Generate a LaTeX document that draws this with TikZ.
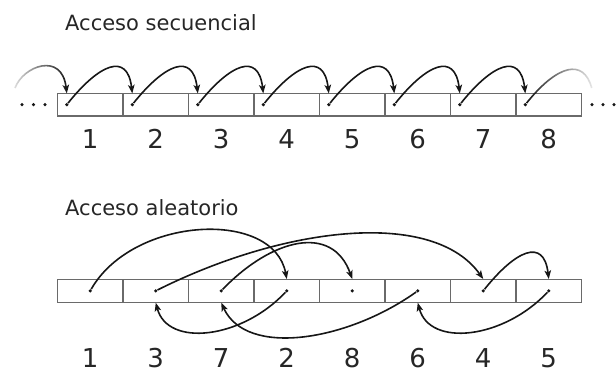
\documentclass[tikz,border=0pt]{standalone}
\usepackage{fontspec}
\setmainfont{DejaVu Sans}
\usetikzlibrary{arrows.meta,fadings}
\tikzfading[name=fadeinleft, left color=transparent!85, middle color=transparent!15, right color=transparent!0]
\tikzfading[name=fadeoutright, left color=transparent!0, middle color=transparent!10, right color=transparent!90]
\definecolor{boxline}{HTML}{6A6A6A}
\definecolor{inkc}{HTML}{161616}
\definecolor{textc}{HTML}{262626}
\begin{document}
\begin{tikzpicture}[x=1pt,y=-1pt,
  cellbox/.style={draw=boxline, line width=1.2pt, rectangle, minimum width=65.5pt, minimum height=22.5pt, inner sep=0pt},
  dotmark/.style={circle, fill=inkc, inner sep=0pt, minimum size=3.6pt},
  arr/.style={draw=inkc, line width=1.6pt, -{Stealth[length=8.5pt,width=6.5pt,inset=2pt]}},
  numlabel/.style={font=\fontsize{26}{30}\selectfont, text=textc, inner sep=0pt, anchor=base},
  titlelabel/.style={font=\fontsize{21}{25}\selectfont, text=textc, inner sep=0pt, anchor=base west},
  ell/.style={circle, fill=inkc, inner sep=0pt, minimum size=3.4pt}]
\useasboundingbox (0,0) rectangle (616,372);

% ---------- Acceso secuencial ----------
\node[titlelabel] (t1) at (65,30.7) {Acceso secuencial};
\foreach \i in {1,...,8} {
  \node[cellbox] (s\i) at ({57.5+(\i-0.5)*65.5},104.65) {};
  \node[dotmark] (sd\i) at ({57.5+(\i-1)*65.5+9.3},104.65) {};
  \coordinate (st\i) at ({57.5+(\i-1)*65.5+9.3},93.4);
  \node[numlabel] (sn\i) at ({57.5+(\i-0.5)*65.5},148) {\i};
}
\foreach \i [evaluate=\i as \j using int(\i+1)] in {1,...,7}
  \draw[arr] (sd\i) .. controls +(32,-40) and +(-5,-42) .. (st\j);
\coordinate (lin) at (15,88);
\coordinate (rout) at (591.7,88);
\draw[arr, path fading=fadeinleft] (lin) .. controls +(8,-22) and +(-5,-42) .. (st1);
\draw[draw=inkc, line width=1.6pt, path fading=fadeoutright] (sd8) .. controls +(32,-40) and +(-8,-30) .. (rout);
\node[ell] (le1) at (22,104.65) {};
\node[ell] (le2) at (33.5,104.65) {};
\node[ell] (le3) at (45,104.65) {};
\node[ell] (re1) at (592,104.65) {};
\node[ell] (re2) at (603,104.65) {};
\node[ell] (re3) at (614,104.65) {};

% ---------- Acceso aleatorio ----------
\node[titlelabel] (t2) at (65,215) {Acceso aleatorio};
\foreach \i/\lab in {1/1,2/3,3/7,4/2,5/8,6/6,7/4,8/5} {
  \node[cellbox] (r\i) at ({57.5+(\i-0.5)*65.5},290.85) {};
  \node[dotmark] (rd\i) at (r\i.center) {};
  \node[numlabel] (rn\i) at ({57.5+(\i-0.5)*65.5},367) {\lab};
}
% 1 -> 2
\draw[arr] (rd1) .. controls +(43,-75) and +(-13,-70) .. (r4.north);
% 2 -> 3
\draw[arr] (rd4) .. controls +(-45,48) and +(12,45) .. (r2.south);
% 3 -> 4
\draw[arr] (rd2) .. controls +(130,-65) and +(-50,-70) .. (r7.north);
% 4 -> 5
\draw[arr] (rd7) .. controls +(32,-40) and +(-5,-42) .. (r8.north);
% 5 -> 6
\draw[arr] (rd8) .. controls +(-45,48) and +(12,45) .. (r6.south);
% 6 -> 7
\draw[arr] (rd6) .. controls +(-70,50) and +(25,55) .. (r3.south);
% 7 -> 8
\draw[arr] (rd3) .. controls +(50,-52) and +(-20,-56) .. (r5.north);
\end{tikzpicture}
\end{document}
